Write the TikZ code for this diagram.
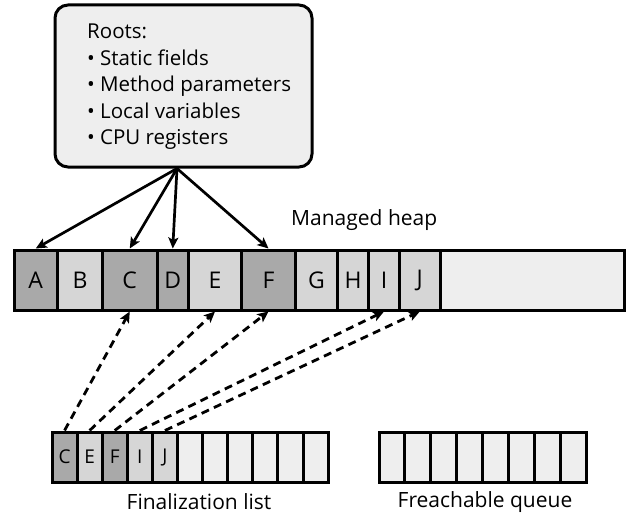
\documentclass[tikz,border=0pt]{standalone}
\usepackage{fontspec}
\setmainfont{Open Sans}
\usetikzlibrary{arrows.meta}

\definecolor{markedgray}{HTML}{A9A9A9}
\definecolor{plaingray}{HTML}{D6D6D6}
\definecolor{freegray}{HTML}{EEEEEE}

\begin{document}
\begin{tikzpicture}[
        x=1pt, y=-1pt,
        >={Stealth[length=11pt,width=10pt,inset=2.5pt]},
        every node/.style={inner sep=0pt},
        rootbox/.style={draw, line width=3pt, rounded corners=13pt, fill=freegray,
          minimum width=257pt, minimum height=162pt},
        roottext/.style={align=left, font=\fontsize{20.5}{26.5}\selectfont},
        heapcell/.style={draw, line width=3pt, minimum height=60pt,
          font=\fontsize{23}{23}\selectfont},
        listcell/.style={draw, line width=3pt, minimum height=50pt,
          font=\fontsize{19}{19}\selectfont},
        caption/.style={font=\fontsize{21}{21}\selectfont},
        rootref/.style={->, line width=2.7pt},
        finref/.style={->, line width=2.8pt, dash pattern=on 8pt off 5.5pt}
      ]
      \useasboundingbox (0,0) rectangle (637,516);

      % Roots
      \node[rootbox] (roots) at (183.5,86) {};
      \node[roottext, anchor=west] (rootlist) at (87,87) {Roots:\\
        \textbullet\ Static fields\\
        \textbullet\ Method parameters\\
        \textbullet\ Local variables\\
        \textbullet\ CPU registers};
      \coordinate (fan) at ([xshift=-6.5pt]roots.south);

      % Managed heap
      \node[caption, anchor=west] (heaplabel) at (291,220) {Managed heap};
      \foreach \n/\l/\r/\c in {A/14/57.5/markedgray, B/57.5/102.5/plaingray,
          C/102.5/157/markedgray, D/157/188.5/markedgray, E/188.5/241.5/plaingray,
          F/241.5/295.5/markedgray, G/295.5/337.5/plaingray, H/337.5/368.5/plaingray,
          I/368.5/399.5/plaingray, J/399.5/440/plaingray}
        \node[heapcell, fill=\c, minimum width={\r-\l}] (h\n) at ({(\l+\r)/2},280) {\n};
      \node[heapcell, fill=freegray, minimum width=184pt] (hfree) at (532,280) {};

      % Finalization list
      \foreach \i/\t/\c in {1/C/markedgray, 2/E/plaingray, 3/F/markedgray,
          4/I/plaingray, 5/J/plaingray, 6//freegray, 7//freegray, 8//freegray,
          9//freegray, 10//freegray, 11//freegray}
        \node[listcell, fill=\c, minimum width=25.1pt] (f\i) at ({52+25.1*(\i-0.5)},457) {\t};
      \node[caption] (finlabel) at (199,502) {Finalization list};

      % Freachable queue
      \foreach \i in {1,...,8}
        \node[listcell, fill=freegray, minimum width=25.9pt] (q\i) at ({379+25.9*(\i-0.5)},457) {};
      \node[caption] (freachlabel) at (485,502) {Freachable queue};

      % References
      \draw[rootref] (fan) -- (hA.north);
      \draw[rootref] (fan) -- (hC.north);
      \draw[rootref] (fan) -- (hD.north);
      \draw[rootref] (fan) -- (hF.north);
      \draw[finref] (f1.north) -- (hC.south);
      \draw[finref] (f2.north) -- (hE.south);
      \draw[finref] (f3.north) -- (hF.south);
      \draw[finref] (f4.north) -- (hI.south);
      \draw[finref] (f5.north) -- (hJ.south);
    \end{tikzpicture}
\end{document}
